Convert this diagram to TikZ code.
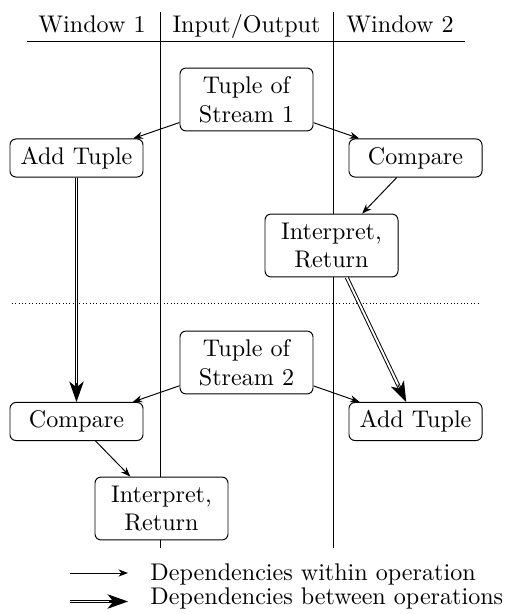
\documentclass[tikz,border=0pt]{standalone}
\usetikzlibrary{arrows.meta,calc}
\begin{document}
\begin{tikzpicture}[x=0.415pt,y=-0.415pt,
  opbox/.style={draw, fill=white, rounded corners=2.5pt, align=center, minimum width=55.2pt, minimum height=15.8pt, inner sep=2pt},
  twoline/.style={opbox, minimum height=26.1pt},
  within/.style={-{Stealth[length=4pt,width=3pt]}, thin},
  between/.style={double, double distance=0.8pt, thin, shorten >=5pt},
  bigtip/.style={-{Stealth[length=8.5pt,width=6pt,inset=2.4pt]}, thin},
  head/.style={anchor=base}]
\useasboundingbox (0,0) rectangle (506,614);

% column headings and separators
\node[head] (h1) at (92,33) {Window 1};
\node[head] (h2) at (246.5,33) {Input/Output};
\node[head] (h3) at (400,33) {Window 2};
\draw (27,41) -- (465,41);
\draw (160,12) -- (160,548);
\draw (333,12) -- (333,548);

% separation of the two stream tuples
\draw[densely dotted] (12,303) -- (478,303);

% first tuple
\node[twoline] (t1) at (246.5,99.5) {Tuple of\\Stream 1};
\node[opbox] (add1) at (76.5,158) {Add Tuple};
\node[opbox] (cmp1) at (415.5,158) {Compare};
\node[twoline] (ret1) at (331.5,245.5) {Interpret,\\Return};

% second tuple
\node[twoline] (t2) at (246.5,362.5) {Tuple of\\Stream 2};
\node[opbox] (cmp2) at (76.5,421.5) {Compare};
\node[opbox] (add2) at (415.5,421.5) {Add Tuple};
\node[twoline] (ret2) at (161.5,508.5) {Interpret,\\Return};

\draw[within] (t1) -- (add1);
\draw[within] (t1) -- (cmp1);
\draw[within] (cmp1) -- (ret1);
\draw[within] (t2) -- (cmp2);
\draw[within] (t2) -- (add2);
\draw[within] (cmp2) -- (ret2);

% double connectors: the double line, then a solid head at its end
\draw[between] (add1) -- (cmp2) coordinate[pos=1] (e1);
\draw[bigtip] ($(e1)!8pt!(add1)$) -- (e1);
\draw[between] (ret1) -- (add2) coordinate[pos=1] (e2);
\draw[bigtip] ($(e2)!8pt!(ret1)$) -- (e2);

% legend
\coordinate (la1) at (70,573);
\coordinate (lb1) at (128,573);
\coordinate (la2) at (70,601.5);
\coordinate (lb2) at (128,601.5);
\draw[within] (la1) -- (lb1);
\draw[between] (la2) -- (lb2);
\draw[bigtip] ($(lb2)!8pt!(la2)$) -- (lb2);
\node[anchor=base west, inner sep=0pt] (lt1) at (150,580) {Dependencies within operation};
\node[anchor=base west, inner sep=0pt] (lt2) at (150,604) {Dependencies between operations};
\end{tikzpicture}
\end{document}
